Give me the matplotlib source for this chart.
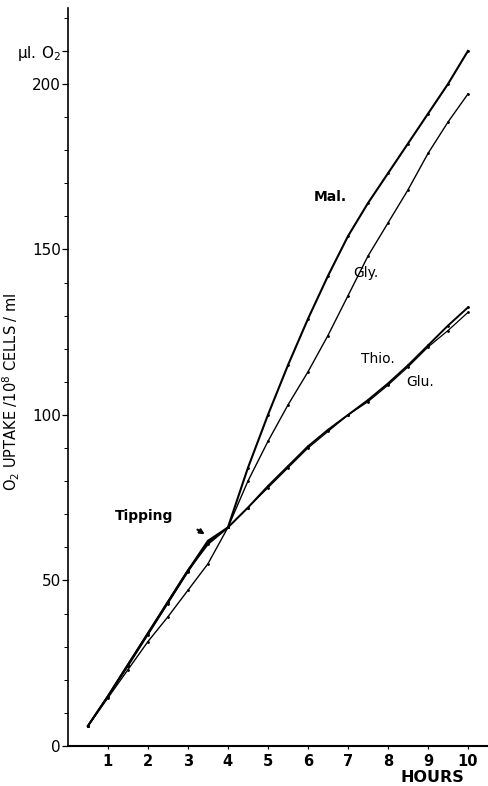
import numpy as np
import matplotlib
matplotlib.use("Agg")
import matplotlib.pyplot as plt

# hours (every half hour)
hours = [0.5, 1, 1.5, 2, 2.5, 3, 3.5, 4, 4.5, 5, 5.5, 6, 6.5, 7, 7.5, 8, 8.5, 9, 9.5, 10]

# O2 uptake (ul O2 / 10^8 cells / ml)
mal = [6, 15, 24.5, 34, 43.5, 53, 61, 66, 84, 100, 115, 129, 142, 154, 164, 173, 182, 191, 200, 210]
gly = [6, 14.5, 23, 31.5, 39, 47, 55, 66, 80, 92, 103, 113, 124, 136, 148, 158, 168, 179, 188.5, 197]
thio = [6, 15, 24.5, 34, 43.5, 53, 62, 66, 72, 78.5, 84.5, 90.5, 95.5, 100, 104.5, 109.5, 115, 121, 127, 132.5]
glu = [6, 15, 24, 33.5, 43, 52.5, 61.5, 66, 72, 78, 84, 90, 95, 100, 104, 109, 114.5, 120.5, 125.5, 131]

fig = plt.figure(figsize=(4.88, 7.86), dpi=100)
ax = fig.add_axes([0.139, 0.051, 0.861, 0.939])

ax.plot(hours, mal, color='black', linewidth=1.5, marker='.', markersize=2)
ax.plot(hours, thio, color='black', linewidth=1.4, marker='.', markersize=2)
ax.plot(hours, glu, color='black', linewidth=0.9, marker='.', markersize=2)
ax.plot(hours, gly, color='black', linewidth=1.0, marker='.', markersize=2)

ax.set_xlim(0, 10.5)
ax.set_ylim(0, 223)

for s in ['top', 'right']:
    ax.spines[s].set_visible(False)
ax.spines['left'].set_linewidth(1.2)
ax.spines['bottom'].set_linewidth(1.5)

ax.set_xticks(range(1, 11))
ax.set_xticklabels([str(i) for i in range(1, 11)], fontsize=10.5, fontweight='bold')
ax.tick_params(axis='x', length=2, width=0.8, pad=4)

ax.set_yticks([0, 50, 100, 150, 200, 210])
ax.set_yticklabels(['0', '50', '100', '150', '200', r'$\mathregular{\mu l.\,O_2}$'], fontsize=11)
ax.set_yticks(np.arange(10, 221, 10), minor=True)
ax.tick_params(axis='y', which='major', length=4, width=0.9, pad=1)
ax.tick_params(axis='y', which='minor', length=3, width=0.7)

ax.set_ylabel(r'O$_2$ UPTAKE /10$^8$ CELLS / ml', fontsize=10.5, labelpad=18)
ax.yaxis.set_label_coords(-0.11, 0.48)

ax.text(9.1, -9.6, 'HOURS', fontsize=11.5, fontweight='bold', ha='center', va='center')

ax.text(6.55, 166, 'Mal.', fontsize=10, fontweight='bold', ha='center', va='center')
ax.text(7.45, 143, 'Gly.', fontsize=10, ha='center', va='center')
ax.text(7.75, 117, 'Thio.', fontsize=10, ha='center', va='center')
ax.text(8.8, 110, 'Glu.', fontsize=10, ha='center', va='center')
ax.text(1.9, 69.5, 'Tipping', fontsize=10, fontweight='bold', ha='center', va='center')
ax.annotate('', xy=(3.48, 63.5), xytext=(3.18, 65.8),
            arrowprops=dict(arrowstyle='-|>', color='black', lw=1.5, mutation_scale=7))

fig.savefig('out.png', dpi=100)
